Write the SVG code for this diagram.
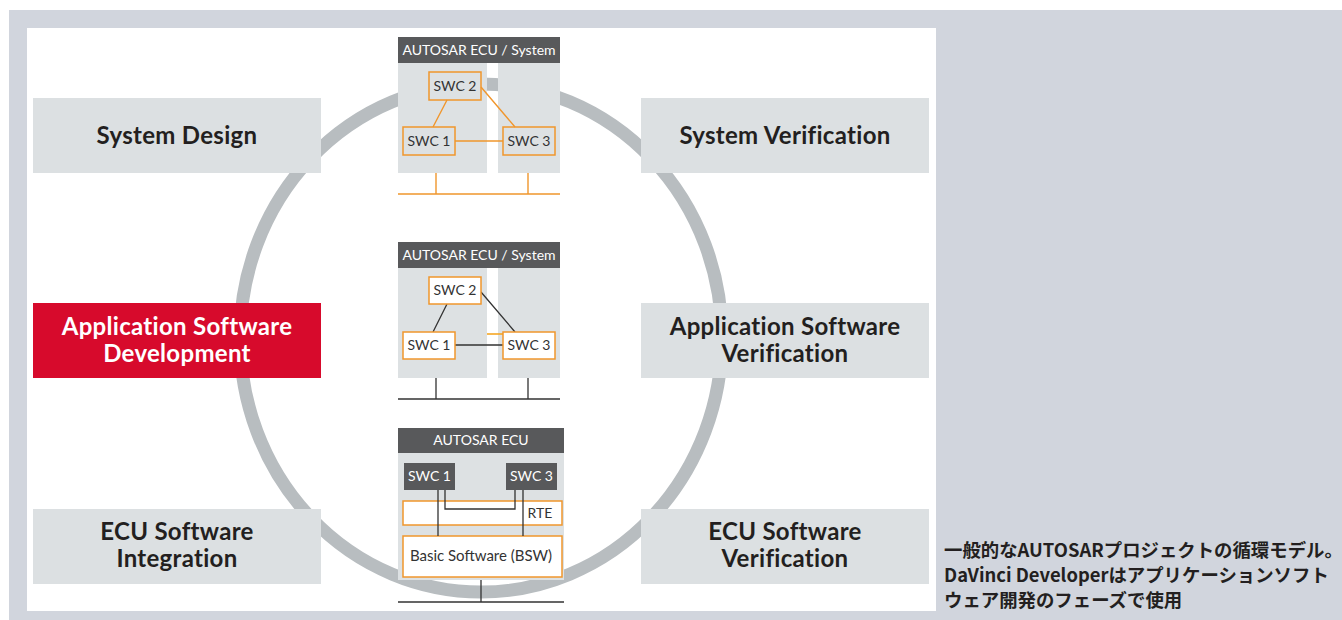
<svg xmlns="http://www.w3.org/2000/svg" width="1342" height="620" viewBox="0 0 1342 620">
<style>
.phase{fill:#dce0e2}
.lbl{font-family:Lato,"Liberation Sans",sans-serif;font-weight:700;font-size:24px;letter-spacing:0.3px;fill:#231f20;text-anchor:middle}
.lblw{fill:#ffffff}
.hdr{fill:#58595b}
.col{fill:#dde1e3}
.ht{font-family:Lato,"Liberation Sans",sans-serif;font-size:14px;fill:#ffffff;text-anchor:middle}
.swc{font-family:Lato,"Liberation Sans",sans-serif;font-size:14px;fill:#333333;text-anchor:middle}
.ob{fill:none;stroke:#f0962d;stroke-width:1.5}
.obw{fill:#ffffff;stroke:#f0962d;stroke-width:1.5}
.ol{stroke:#f0962d;stroke-width:1.4;fill:none}
.dl{stroke:#333333;stroke-width:1.3;fill:none}
.cap{font-family:"Noto Sans CJK JP","Noto Sans",sans-serif;font-weight:700;font-size:18.4px;fill:#231f20}
</style>
<rect x="9" y="10" width="1333" height="610" fill="#d1d5dd"/>
<rect x="27" y="28" width="909" height="583" fill="#ffffff"/>
<g id="cycle">
<ellipse cx="481" cy="338" rx="241" ry="254" fill="none" stroke="#b8bdc0" stroke-width="13"/>
</g>
<g id="system-design"><rect class="phase" x="33" y="98" width="288" height="75"/><text class="lbl" x="177" y="144">System Design</text></g>
<g id="app-sw-dev"><rect x="33" y="303" width="288" height="75" fill="#d70a2c"/><text class="lbl lblw" x="177" y="335">Application Software</text><text class="lbl lblw" x="177" y="362">Development</text></g>
<g id="ecu-sw-int"><rect class="phase" x="33" y="509" width="288" height="75"/><text class="lbl" x="177" y="540">ECU Software</text><text class="lbl" x="177" y="567">Integration</text></g>
<g id="system-verif"><rect class="phase" x="641" y="98" width="288" height="75"/><text class="lbl" x="785" y="144">System Verification</text></g>
<g id="app-sw-verif"><rect class="phase" x="641" y="303" width="288" height="75"/><text class="lbl" x="785" y="335">Application Software</text><text class="lbl" x="785" y="362">Verification</text></g>
<g id="ecu-sw-verif"><rect class="phase" x="641" y="509" width="288" height="75"/><text class="lbl" x="785" y="540">ECU Software</text><text class="lbl" x="785" y="567">Verification</text></g>

<g id="panel-system">
<rect class="hdr" x="398" y="37" width="162" height="26"/>
<text class="ht" x="479" y="55">AUTOSAR ECU / System</text>
<rect class="col" x="398" y="63" width="89" height="110"/>
<rect class="col" x="498" y="63" width="62" height="110"/>
<g id="p1-connectors">
<path class="ol" d="M447 100 L433 127 M481 87 L515 127 M455 141 L503 141 M398 194 L560 194 M436 173 L436 194 M528 173 L528 194"/>
</g>
<g id="p1-swc2"><rect class="ob" x="429" y="72" width="52" height="28"/><text class="swc" x="455" y="91">SWC 2</text></g>
<g id="p1-swc1"><rect class="ob" x="403" y="127" width="52" height="28"/><text class="swc" x="429" y="146">SWC 1</text></g>
<g id="p1-swc3"><rect class="ob" x="503" y="127" width="52" height="28"/><text class="swc" x="529" y="146">SWC 3</text></g>
</g>

<g id="panel-app">
<rect class="hdr" x="398" y="242" width="162" height="26"/>
<text class="ht" x="479" y="260">AUTOSAR ECU / System</text>
<rect class="col" x="398" y="268" width="89" height="110"/>
<rect class="col" x="498" y="268" width="62" height="110"/>
<g id="p2-connectors">
<path class="dl" d="M447 304 L433 332 M481 292 L515 332 M455 345 L503 345 M398 399 L560 399 M436 378 L436 399 M528 378 L528 399"/>
<path d="M487 334 L518 334" stroke="#f5a623" stroke-width="1.6" fill="none"/>
</g>
<g id="p2-swc2"><rect class="obw" x="429" y="277" width="52" height="27"/><text class="swc" x="455" y="295">SWC 2</text></g>
<g id="p2-swc1"><rect class="obw" x="403" y="332" width="52" height="27"/><text class="swc" x="429" y="350">SWC 1</text></g>
<g id="p2-swc3"><rect class="obw" x="503" y="332" width="52" height="27"/><text class="swc" x="529" y="350">SWC 3</text></g>
</g>

<g id="panel-ecu">
<rect class="hdr" x="398" y="428" width="166" height="25"/>
<text class="ht" x="481" y="445">AUTOSAR ECU</text>
<rect class="col" x="398" y="453" width="166" height="127"/>
<g id="p3-rte"><rect class="obw" x="403" y="501" width="159" height="24"/><text class="swc" x="540" y="518">RTE</text></g>
<g id="p3-bsw"><rect class="obw" x="403" y="536" width="159" height="41"/><text class="swc" x="481" y="561" style="font-size:15px">Basic Software (BSW)</text></g>
<g id="p3-connectors">
<path class="dl" d="M438 490 L438 536 M523 490 L523 536 M445 490 L445 509 L515 509 L515 490 M398 602 L564 602 M481 580 L481 602"/>
</g>
<g id="p3-swc1"><rect class="hdr" x="404" y="463" width="51" height="27"/><text class="ht" x="429.5" y="481">SWC 1</text></g>
<g id="p3-swc3"><rect class="hdr" x="506" y="463" width="51" height="27"/><text class="ht" x="531.5" y="481">SWC 3</text></g>
</g>

<g id="caption">
<text class="cap" x="944" y="557">一般的なAUTOSARプロジェクトの循環モデル。</text>
<text class="cap" x="944" y="582">DaVinci Developerはアプリケーションソフト</text>
<text class="cap" x="944" y="607">ウェア開発のフェーズで使用</text>
</g>
</svg>
